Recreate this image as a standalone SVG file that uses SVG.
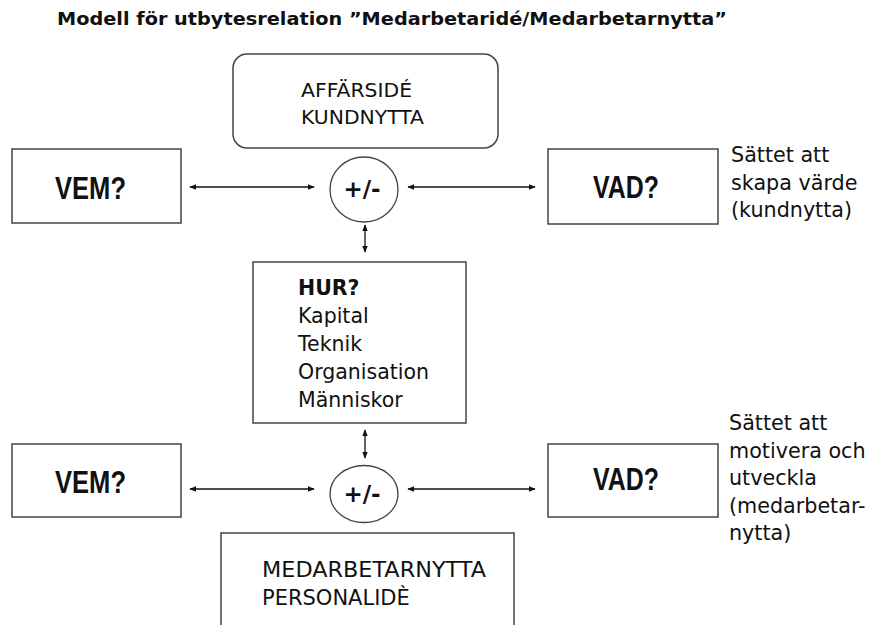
<svg xmlns="http://www.w3.org/2000/svg" width="869" height="625" viewBox="0 0 869 625">
<defs>
<marker id="ah" viewBox="0 0 10 10" refX="9" refY="5" markerWidth="7" markerHeight="7" markerUnits="userSpaceOnUse" orient="auto-start-reverse">
<path d="M0,1 L10,5 L0,9 Z" fill="#111"/>
</marker>
</defs>
<style>
.box{fill:#fff;stroke:#444;stroke-width:1.5}
.ell{fill:#fff;stroke:#444;stroke-width:1.3}
.t{font-family:"DejaVu Sans","Liberation Sans",sans-serif;fill:#111}
.big{font-family:"Liberation Sans","DejaVu Sans",sans-serif;font-weight:bold;font-size:31px;fill:#111}
.pm{font-family:"DejaVu Sans","Liberation Sans",sans-serif;font-weight:bold;font-size:23px;fill:#111}
.side{font-size:20.7px}
.con{stroke:#111;stroke-width:1.3;fill:none;marker-start:url(#ah);marker-end:url(#ah)}
</style>
<rect width="869" height="625" fill="#fff"/>
<text class="t" x="57" y="25" font-size="18.5" font-weight="bold" textLength="670" lengthAdjust="spacingAndGlyphs">Modell för utbytesrelation ”Medarbetaridé/Medarbetarnytta”</text>

<g id="affarside">
<rect class="box" x="233" y="54" width="265" height="94" rx="14"/>
<text class="t" x="301" y="97" font-size="20" textLength="111" lengthAdjust="spacingAndGlyphs">AFFÄRSIDÉ</text>
<text class="t" x="301" y="124" font-size="20" textLength="123" lengthAdjust="spacingAndGlyphs">KUNDNYTTA</text>
</g>

<g id="vem1">
<rect class="box" x="12" y="149" width="169" height="74"/>
<text class="big" x="55" y="199" textLength="71" lengthAdjust="spacingAndGlyphs">VEM?</text>
</g>

<g id="pm1">
<ellipse class="ell" cx="364" cy="189.5" rx="34" ry="32.5"/>
<text class="pm" x="362" y="197" text-anchor="middle">+/-</text>
</g>

<g id="vad1">
<rect class="box" x="548" y="149" width="170" height="75"/>
<text class="big" x="593" y="198" textLength="66" lengthAdjust="spacingAndGlyphs">VAD?</text>
</g>

<g id="side1">
<text class="t side" x="731" y="162">Sättet att</text>
<text class="t side" x="731" y="189.5">skapa värde</text>
<text class="t side" x="731" y="217">(kundnytta)</text>
</g>

<g id="hur">
<rect class="box" x="253" y="262" width="213" height="161"/>
<text class="t" x="298" y="295" font-size="20.5" font-weight="bold">HUR?</text>
<text class="t" x="298" y="323" font-size="20.5">Kapital</text>
<text class="t" x="298" y="351" font-size="20.5">Teknik</text>
<text class="t" x="298" y="379" font-size="20.5">Organisation</text>
<text class="t" x="298" y="407" font-size="20.5">Människor</text>
</g>

<g id="vem2">
<rect class="box" x="12" y="444" width="169" height="73"/>
<text class="big" x="55" y="493" textLength="71" lengthAdjust="spacingAndGlyphs">VEM?</text>
</g>

<g id="pm2">
<ellipse class="ell" cx="364" cy="494" rx="34" ry="28.5"/>
<text class="pm" x="362" y="502" text-anchor="middle">+/-</text>
</g>

<g id="vad2">
<rect class="box" x="548" y="444" width="170" height="73"/>
<text class="big" x="593" y="490" textLength="66" lengthAdjust="spacingAndGlyphs">VAD?</text>
</g>

<g id="side2">
<text class="t side" x="729" y="430">Sättet att</text>
<text class="t side" x="729" y="457.5">motivera och</text>
<text class="t side" x="729" y="485">utveckla</text>
<text class="t side" x="729" y="512.5">(medarbetar-</text>
<text class="t side" x="729" y="540">nytta)</text>
</g>

<g id="medarbetarnytta">
<path class="box" d="M221,630 V533 H514 V630"/>
<text class="t" x="262" y="577" font-size="21" textLength="224" lengthAdjust="spacingAndGlyphs">MEDARBETARNYTTA</text>
<text class="t" x="262" y="605" font-size="21">PERSONALIDÈ</text>
</g>

<g id="connectors">
<line class="con" x1="190" y1="187" x2="314" y2="187"/>
<line class="con" x1="408" y1="187" x2="535" y2="187"/>
<line class="con" x1="365" y1="225" x2="365" y2="252"/>
<line class="con" x1="365" y1="430" x2="365" y2="458"/>
<line class="con" x1="190" y1="489" x2="314" y2="489"/>
<line class="con" x1="408" y1="489" x2="535" y2="489"/>
</g>
</svg>
